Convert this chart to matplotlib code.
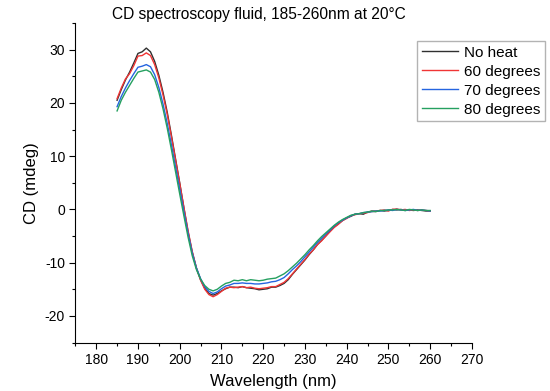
import numpy as np
import matplotlib
matplotlib.use("Agg")
from matplotlib import pyplot as plt
from matplotlib.ticker import MultipleLocator

# wavelength (nm), 1 nm steps
wavelength = np.arange(185, 261)

no_heat = [20.5, 22.5, 24.3, 25.8, 27.5, 29.3, 29.6, 30.3, 29.6, 27.8,
           25.2, 22.0, 18.3, 14.0, 9.5, 5.0, 0.3, -4.2, -8.0, -11.0,
           -13.2, -14.8, -15.8, -16.1, -15.8, -15.3, -14.9, -14.6, -14.6, -14.7,
           -14.5, -14.7, -14.8, -14.9, -15.1, -15.0, -14.9, -14.6, -14.6, -14.3,
           -13.9, -13.2, -12.2, -11.3, -10.4, -9.5, -8.5, -7.6, -6.6, -5.8,
           -5.0, -4.1, -3.3, -2.7, -2.1, -1.6, -1.3, -0.9, -0.8, -0.9,
           -0.5, -0.4, -0.4, -0.2, -0.3, -0.2, 0.0, -0.1, 0.0, -0.2,
           -0.1, -0.2, -0.1, -0.2, -0.3, -0.3]

deg60 = [20.8, 22.8, 24.5, 25.5, 27.0, 28.8, 28.9, 29.4, 28.9, 27.2,
         24.7, 21.5, 17.9, 13.7, 9.3, 4.9, 0.4, -4.0, -7.9, -11.0,
         -13.3, -15.0, -16.0, -16.4, -16.0, -15.4, -14.8, -14.6, -14.7, -14.6,
         -14.5, -14.7, -14.6, -14.8, -14.9, -14.8, -14.7, -14.5, -14.5, -14.1,
         -13.7, -13.0, -12.1, -11.2, -10.3, -9.4, -8.4, -7.6, -6.6, -5.9,
         -5.0, -4.2, -3.4, -2.8, -2.1, -1.7, -1.2, -1.0, -0.8, -0.7,
         -0.6, -0.3, -0.3, -0.2, -0.1, -0.3, 0.0, 0.1, -0.1, 0.0,
         -0.2, -0.1, -0.2, -0.1, -0.2, -0.3]

deg70 = [19.3, 21.2, 22.8, 24.2, 25.5, 26.7, 26.9, 27.2, 26.8, 25.3,
         22.9, 19.8, 16.2, 12.2, 8.0, 3.8, -0.4, -4.5, -8.2, -11.0,
         -13.0, -14.5, -15.4, -15.8, -15.5, -14.9, -14.4, -14.2, -13.9, -13.9,
         -13.8, -13.9, -13.9, -14.0, -14.0, -13.9, -13.8, -13.6, -13.5, -13.2,
         -12.8, -12.1, -11.3, -10.6, -9.8, -8.9, -8.0, -7.1, -6.2, -5.4,
         -4.6, -3.9, -3.1, -2.5, -2.0, -1.6, -1.2, -0.9, -0.8, -0.6,
         -0.5, -0.4, -0.3, -0.3, -0.2, -0.1, -0.2, 0.0, -0.1, -0.2,
         -0.1, 0.0, -0.2, -0.1, -0.2, -0.3]

deg80 = [18.5, 20.5, 22.0, 23.3, 24.6, 25.8, 26.0, 26.2, 25.8, 24.4,
         22.0, 18.9, 15.3, 11.3, 7.1, 2.9, -1.2, -5.2, -8.7, -11.3,
         -13.1, -14.3, -15.0, -15.3, -15.0, -14.4, -13.9, -13.7, -13.3, -13.4,
         -13.2, -13.4, -13.2, -13.3, -13.4, -13.3, -13.1, -13.0, -12.9, -12.5,
         -12.1, -11.5, -10.8, -10.1, -9.3, -8.5, -7.6, -6.8, -5.9, -5.1,
         -4.4, -3.7, -3.0, -2.4, -1.9, -1.5, -1.1, -0.9, -0.8, -0.6,
         -0.5, -0.3, -0.4, -0.2, -0.2, -0.1, -0.1, 0.0, -0.1, -0.2,
         0.0, -0.1, -0.2, -0.1, -0.2, -0.2]

labels = ["No heat", "60 degrees", "70 degrees", "80 degrees"]
colors = ["#303030", "#f03535", "#2565e0", "#25a060"]

plt.rcParams['font.family'] = ['Liberation Sans', 'DejaVu Sans']
plt.rcParams['axes.unicode_minus'] = False

fig = plt.figure(figsize=(5.5, 3.91), dpi=100)
ax = fig.add_axes([0.137, 0.124, 0.721, 0.817])

for series, lab, col in zip([no_heat, deg60, deg70, deg80], labels, colors):
    ax.plot(wavelength, series, color=col, lw=1.0, label=lab)

ax.set_xlim(175, 270)
ax.set_ylim(-25, 35)
ax.xaxis.set_major_locator(MultipleLocator(10))
ax.xaxis.set_minor_locator(MultipleLocator(5))
ax.yaxis.set_major_locator(MultipleLocator(10))
ax.yaxis.set_minor_locator(MultipleLocator(5))
ax.set_xticks(np.arange(180, 271, 10))
ax.tick_params(which='major', direction='out', length=4, width=0.8, labelsize=10)
ax.tick_params(which='minor', direction='out', length=2, width=0.8)
ax.spines['top'].set_visible(False)
ax.spines['right'].set_visible(False)

ax.set_xlabel("Wavelength (nm)", fontsize=12, labelpad=5)
ax.set_ylabel("CD (mdeg)", fontsize=12)
fig.text(259 / 550, 1 - 14 / 391, "CD spectroscopy fluid, 185-260nm at 20°C",
         ha='center', va='center', fontsize=11.2)

fig.legend(loc='upper left', bbox_to_anchor=(417 / 550, 1 - 41 / 391),
           fontsize=11, frameon=True, fancybox=False, edgecolor='#a0a0a0',
           handlelength=2.4, handletextpad=0.4, borderpad=0.3, labelspacing=0.33,
           borderaxespad=0)

fig.savefig("out.png", dpi=100)
